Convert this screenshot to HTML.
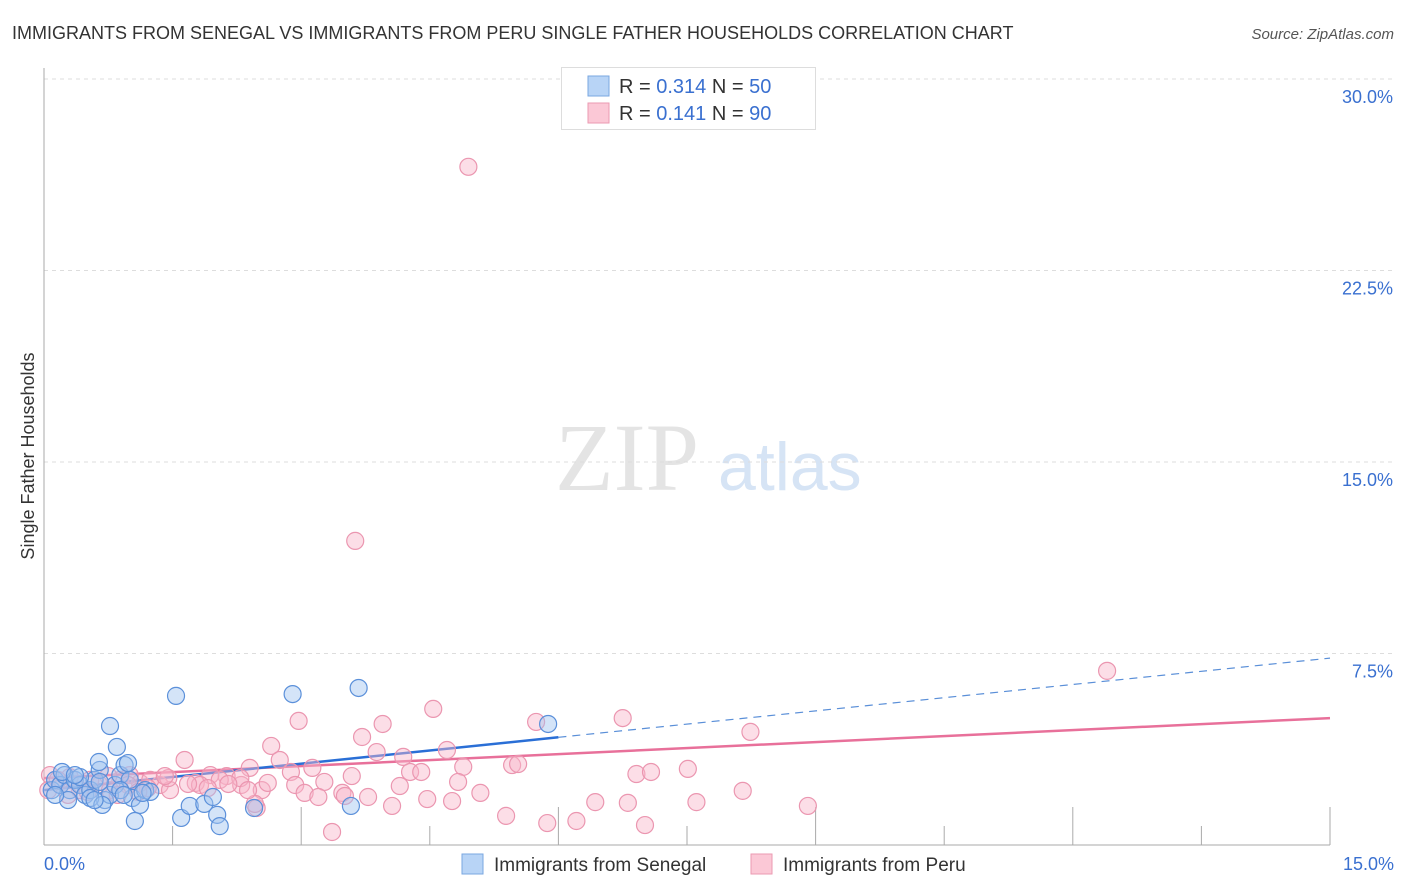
<!DOCTYPE html>
<html><head><meta charset="utf-8"><style>
body{margin:0;background:#fff;font-family:"Liberation Sans",sans-serif;}
svg{display:block}
</style></head><body>
<svg id="chart" width="1406" height="892">
<text x="12" y="39" font-size="18" fill="#333">IMMIGRANTS FROM SENEGAL VS IMMIGRANTS FROM PERU SINGLE FATHER HOUSEHOLDS CORRELATION CHART</text>
<text x="1394" y="39" font-size="15" fill="#555" font-style="italic" text-anchor="end">Source: ZipAtlas.com</text>
<text x="555" y="490" font-size="96" fill="#e4e4e4" font-family="Liberation Serif,serif">ZIP</text>
<text x="718" y="490" font-size="68" fill="#d6e4f5">atlas</text>
<text transform="translate(34,456) rotate(-90)" font-size="18" fill="#333" text-anchor="middle">Single Father Households</text>
<g id="grid"></g><g id="axes"></g><g id="trend"></g><g id="pts"></g>
<g>
<rect x="561.5" y="67.5" width="254" height="62" fill="#fff" stroke="#ddd"/>
<rect x="588" y="76" width="21" height="20" fill="#b8d4f6" stroke="#7aa7e0"/>
<text x="619" y="93" font-size="20" fill="#333">R = <tspan fill="#3a70d0">0.314</tspan>   N = <tspan fill="#3a70d0">50</tspan></text>
<rect x="588" y="103" width="21" height="20" fill="#fbc8d6" stroke="#eb9ab2"/>
<text x="619" y="120" font-size="20" fill="#333">R =  <tspan fill="#3a70d0">0.141</tspan>   N = <tspan fill="#3a70d0">90</tspan></text>
</g>
<g>
<rect x="462" y="854" width="21" height="20" fill="#b8d4f6" stroke="#7aa7e0"/>
<text x="494" y="871" font-size="19" fill="#333">Immigrants from Senegal</text>
<rect x="751" y="854" width="21" height="20" fill="#fbc8d6" stroke="#eb9ab2"/>
<text x="783" y="871" font-size="19" fill="#333">Immigrants from Peru</text>
</g>
</svg>
<script>
const yTicks=[7.5,15,22.5,30];
const yTickLabels=["7.5%","15.0%","22.5%","30.0%"];
const xTickLabels=["0.0%","15.0%"];
const senegalX=[0.09,0.13,0.19,0.24,0.30,0.36,0.42,0.48,0.54,0.59,0.65,0.71,0.77,0.83,0.89,0.94,1.00,0.77,0.85,0.64,0.98,1.03,1.12,1.18,1.24,1.06,1.54,1.60,1.70,1.87,1.97,2.02,2.05,2.45,2.90,3.67,3.58,5.88,0.28,0.54,0.68,0.89,1.15,0.21,0.42,0.65,0.13,0.59,0.36,0.93];
const senegalY=[2.15,2.55,2.35,2.74,2.15,2.55,2.35,1.96,2.15,2.55,2.94,1.76,1.96,2.35,2.74,3.13,2.55,4.66,3.84,3.25,3.21,1.84,1.57,2.15,2.08,0.94,5.84,1.06,1.53,1.61,1.88,1.18,0.74,1.45,5.91,6.15,1.53,4.74,1.76,1.84,1.57,2.15,2.04,2.86,2.66,2.47,1.96,1.76,2.74,1.96];
const peruX=[4.95,3.63,12.40,8.24,6.75,5.74,4.54,2.97,3.95,3.71,2.65,1.64,3.88,4.19,4.70,2.75,2.40,3.13,2.88,4.27,4.40,4.89,5.46,5.53,6.91,7.08,7.51,3.59,3.27,2.93,2.13,1.94,1.77,2.30,2.54,3.04,3.20,3.48,3.51,5.09,4.83,4.15,3.78,4.06,4.47,4.76,6.43,6.81,7.61,8.91,8.15,5.39,6.21,5.87,7.01,3.36,2.48,2.46,1.35,1.12,0.89,0.65,0.42,0.19,0.07,0.30,0.54,0.77,1.00,1.24,1.47,1.82,2.05,2.29,0.05,0.16,0.28,0.51,0.75,0.98,1.21,1.45,1.68,1.91,2.15,2.38,2.61,1.41,1.10,0.86];
const peruY=[26.56,11.91,6.82,4.43,4.97,4.82,5.33,4.86,4.74,4.23,3.88,3.33,3.64,3.45,3.72,3.33,3.02,3.02,2.86,2.86,2.86,3.06,3.13,3.17,2.78,2.86,2.98,2.70,2.47,2.35,2.70,2.74,2.43,2.35,2.15,2.04,1.88,2.04,1.92,2.04,2.47,2.31,1.88,1.53,1.80,1.72,1.68,1.65,1.68,1.53,2.12,1.14,0.94,0.86,0.78,0.51,1.45,1.61,2.35,2.43,2.55,2.35,2.15,2.35,2.74,2.66,2.55,2.15,2.74,2.55,2.15,2.35,2.55,2.62,2.15,2.55,1.96,2.08,2.70,2.35,2.23,2.62,2.39,2.23,2.39,2.15,2.43,2.70,2.08,1.96];
const senegalTrend=[2.15,7.32]; // value at x=0 and x=15
const senegalSolidEnd=6.0;
const peruTrend=[2.62,4.97];

const X0=44,X1=1330,Y0=845,PY=191.5/7.5;
const sx=v=>X0+(v/15)*(X1-X0);
const sy=v=>Y0-v*PY;
const NS="http://www.w3.org/2000/svg";
function mk(tag,parent,attrs){const e=document.createElementNS(NS,tag);for(const k in attrs)e.setAttribute(k,attrs[k]);parent.appendChild(e);return e;}
const grid=document.getElementById('grid'),axes=document.getElementById('axes'),trend=document.getElementById('trend'),pts=document.getElementById('pts');
yTicks.forEach((t,i)=>{
  const l=mk('line',grid,{x1:X0,x2:1392,y1:sy(t),y2:sy(t),stroke:'#ddd','stroke-dasharray':'4,4'});
  
  
  const tx=mk('text',grid,{x:1393,y:sy(t)+24,'font-size':18,fill:'#3a70d0','text-anchor':'end'});
  tx.textContent=yTickLabels[i];
  
  
});
const ya=mk('line',axes,{x1:X0,x2:X0,y1:68,y2:Y0,stroke:'#aaa'});


const xa=mk('line',axes,{x1:X0,x2:X1,y1:Y0,y2:Y0,stroke:'#aaa'});


for(let i=1;i<=10;i++){
  const x=sx(i*1.5);
  const tk=mk('line',axes,{x1:x,x2:x,y1:Y0,y2:(i%2===0?Y0-38:Y0-19),stroke:'#aaa'});
  
  
}
[[0,'start',44],[15,'end',1394]].forEach((d,i)=>{
  const tx=mk('text',axes,{x:d[2],y:870,'font-size':18,fill:'#3a70d0','text-anchor':d[1]});
  tx.textContent=xTickLabels[i];
  
  
});
function ty(tr,x){return tr[0]+(tr[1]-tr[0])*x/15;}
const pl=mk('line',trend,{x1:sx(0),y1:sy(ty(peruTrend,0)),x2:sx(15),y2:sy(ty(peruTrend,15)),stroke:'#e8709a','stroke-width':2.5});


const bl=mk('line',trend,{x1:sx(0),y1:sy(ty(senegalTrend,0)),x2:sx(senegalSolidEnd),y2:sy(ty(senegalTrend,senegalSolidEnd)),stroke:'#2a6fd6','stroke-width':2.5});


const bd=mk('line',trend,{x1:sx(senegalSolidEnd),y1:sy(ty(senegalTrend,senegalSolidEnd)),x2:sx(15),y2:sy(ty(senegalTrend,15)),stroke:'#5a8fd8','stroke-width':1.2,'stroke-dasharray':'8,6'});


peruX.forEach((x,i)=>{
  const c=mk('circle',pts,{cx:sx(x),cy:sy(peruY[i]),r:8.5,fill:'rgba(248,182,202,0.45)',stroke:'#eb96b0','stroke-width':1.2});
  
  
});
senegalX.forEach((x,i)=>{
  const c=mk('circle',pts,{cx:sx(x),cy:sy(senegalY[i]),r:8.5,fill:'rgba(160,196,240,0.45)',stroke:'#5b90da','stroke-width':1.2});
  
  
});
</script>
</body></html>
